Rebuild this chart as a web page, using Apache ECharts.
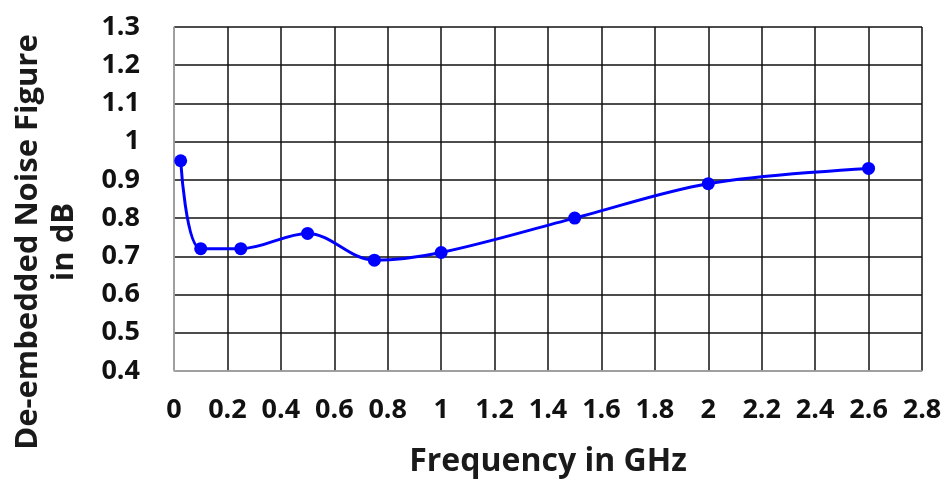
<!DOCTYPE html>
<html>
<head>
    <meta charset="utf-8">
    <title>De-embedded Noise Figure</title>
    <script src="https://cdn.jsdelivr.net/npm/echarts@6/dist/echarts.min.js"></script>
    <style>
        html, body { margin: 0; padding: 0; background: #fff; }
        #main { width: 947px; height: 480px; }
    </style>
</head>
<body>
<div id="main"></div>
<script>
    // frequency (GHz) and noise figure (dB)
    var freq = [0.025, 0.1, 0.25, 0.5, 0.75, 1, 1.5, 2, 2.6];
    var nf = [0.95, 0.72, 0.72, 0.76, 0.69, 0.71, 0.80, 0.89, 0.93];
    var xName = 'Frequency in GHz';
    var yName = 'De-embedded Noise Figure\nin dB';

    var pts = [];
    for (var i = 0; i < freq.length; i++) {
        pts.push([freq[i], nf[i]]);
    }

    var font = "'Open Sans', 'Liberation Sans', sans-serif";
    var myChart = echarts.init(document.getElementById('main'));
    var option = {
        animation: false,
        grid: { left: 174, right: 25, top: 27, bottom: 109, outerBoundsMode: 'none', containLabel: false },
        // y title sits lower than the plot middle in the original, so it is drawn separately
        graphic: [{
            type: 'text',
            x: 46, y: 242,
            rotation: Math.PI / 2,
            style: {
                text: yName,
                font: 'bold 31px ' + font,
                fill: '#1a1a1a',
                align: 'center',
                verticalAlign: 'middle',
                lineHeight: 36
            }
        }],
        xAxis: {
            type: 'value',
            min: 0, max: 2.8, interval: 0.2,
            name: xName,
            nameLocation: 'middle',
            nameGap: 75,
            nameTextStyle: { fontSize: 32, fontWeight: 'bold', color: '#1a1a1a', fontFamily: font },
            axisLine: { show: true, lineStyle: { color: '#bbb', width: 1.5 } },
            axisTick: { show: false },
            axisLabel: { fontSize: 27, fontWeight: 'bold', color: '#111', fontFamily: font, margin: 26 },
            splitLine: { show: true, lineStyle: { color: '#111', width: 1.5 } }
        },
        yAxis: {
            type: 'value',
            min: 0.4, max: 1.3, interval: 0.1,
            axisLine: { show: true, lineStyle: { color: '#bbb', width: 1.5 } },
            axisTick: { show: false },
            axisLabel: {
                fontSize: 27, fontWeight: 'bold', color: '#111', fontFamily: font, margin: 34,
                formatter: function (v) { return +v.toFixed(1); }
            },
            splitLine: { show: true, lineStyle: { color: '#111', width: 1.5 } }
        },
        series: [{
            type: 'line',
            data: pts,
            smooth: 0.35,
            symbol: 'circle',
            symbolSize: 13,
            lineStyle: { color: '#0000ff', width: 3 },
            itemStyle: { color: '#0000ff' }
        }]
    };
    myChart.setOption(option);
</script>
</body>
</html>
